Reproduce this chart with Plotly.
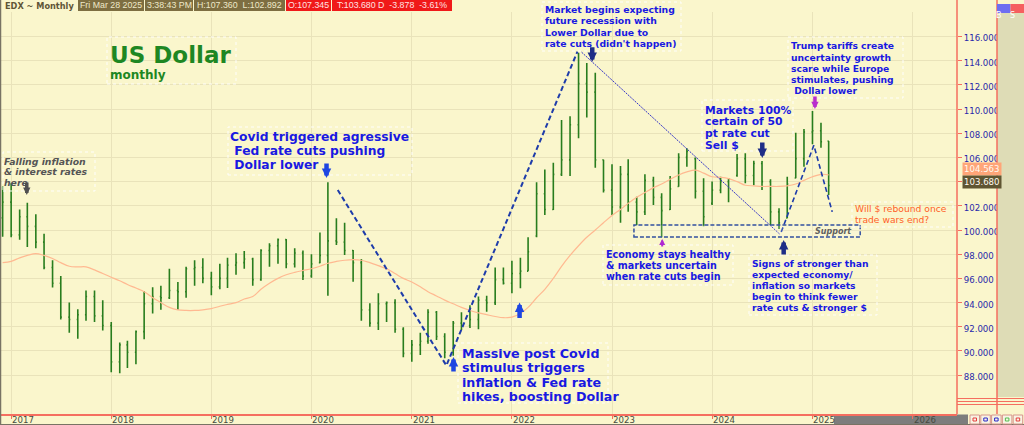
import pandas as pd
import plotly.graph_objects as go

# monthly bars, Dec 2016 .. Mar 2025
months = pd.date_range("2016-12-01", periods=100, freq="MS")

opens = [101.0,
         102.3, 99.6, 101.1, 100.3, 99.0, 96.9, 95.6, 92.8, 92.6, 93.0, 94.5, 92.9,
         92.1, 89.1, 90.5, 89.9, 91.6, 93.9, 94.5, 94.4, 95.0, 94.9, 96.8, 96.9,
         96.0, 95.3, 96.0, 97.1, 97.3, 97.6, 95.9, 98.3, 98.7, 99.2, 97.2, 98.1,
         96.2, 97.3, 97.9, 99.1, 99.0, 98.3, 97.3, 93.4, 92.3, 93.9, 94.0, 91.8,
         89.8, 90.5, 90.8, 93.2, 91.2, 89.9, 92.3, 92.1, 92.6, 94.2, 94.0, 95.9,
         95.6, 96.4, 96.6, 99.5, 103.0, 101.7, 104.6, 105.8, 108.7, 112.1, 111.4, 105.8,
         103.3, 101.9, 104.6, 102.3, 101.5, 104.1, 102.7, 101.7, 103.6, 106.0, 105.9, 103.2,
         102.2, 103.3, 104.0, 104.5, 105.9, 104.5, 105.5, 104.0, 101.5, 101.0, 104.3, 105.9,
         108.1, 108.2, 107.345]
highs = [103.6,
         103.86, 101.7, 102.26, 101.3, 99.7, 97.5, 96.2, 94.0, 93.45, 95.0, 95.0, 94.2,
         92.4, 90.7, 90.85, 91.7, 94.96, 95.26, 95.4, 96.8, 95.7, 96.97, 97.5, 97.66,
         96.55, 97.2, 97.7, 98.07, 98.26, 97.7, 98.4, 98.9, 99.3, 99.26, 98.5, 98.3,
         98.0, 99.8, 103.94, 100.97, 100.6, 98.35, 97.6, 93.94, 94.77, 94.08, 94.27, 91.96,
         90.9, 91.5, 93.45, 93.3, 91.46, 92.48, 93.2, 93.77, 94.5, 94.57, 96.9, 96.9,
         97.46, 97.7, 99.4, 103.94, 105.0, 105.56, 109.1, 109.4, 114.65, 113.8, 113.0, 105.8,
         105.43, 105.3, 105.84, 102.75, 104.6, 104.4, 103.03, 104.46, 106.34, 106.75, 106.0, 104.27,
         104.0, 104.4, 104.3, 106.28, 106.34, 105.73, 105.7, 104.2, 101.8, 104.4, 108.04, 108.35,
         109.83, 108.87, 107.36]
lows = [99.45,
        99.4, 99.2, 98.6, 98.5, 96.75, 95.25, 92.6, 91.5, 91.0, 92.5, 92.4, 91.7,
        88.25, 88.15, 88.6, 88.9, 90.97, 93.1, 93.4, 94.3, 93.4, 94.4, 95.4, 95.6,
        94.6, 95.1, 95.2, 96.3, 96.8, 95.4, 95.8, 96.97, 97.2, 96.83, 96.9, 95.87,
        96.06, 97.25, 94.57, 98.76, 97.93, 95.73, 92.5, 92.0, 91.74, 92.4, 91.5, 89.48,
        89.1, 89.67, 90.6, 90.9, 89.4, 89.6, 91.74, 91.9, 91.8, 93.25, 93.8, 95.5,
        94.77, 95.18, 96.6, 99.4, 101.24, 101.65, 104.46, 104.46, 107.58, 109.3, 105.15, 103.1,
        101.24, 100.6, 101.5, 100.4, 101.24, 102.07, 99.4, 101.65, 103.58, 105.23, 102.6, 100.3,
        102.07, 103.03, 102.3, 104.4, 103.86, 103.7, 103.3, 100.4, 100.08, 100.97, 104.27, 105.23,
        107.08, 106.8, 102.892]
closes = [102.3,
          99.6, 101.1, 100.3, 99.0, 96.9, 95.6, 92.8, 92.6, 93.0, 94.5, 92.9, 92.1,
          89.1, 90.5, 89.9, 91.6, 93.9, 94.5, 94.4, 95.0, 94.9, 96.8, 96.9, 96.0,
          95.3, 96.0, 97.1, 97.3, 97.6, 95.9, 98.3, 98.7, 99.2, 97.2, 98.1, 96.2,
          97.2, 97.9, 99.1, 99.0, 98.3, 97.3, 93.4, 92.3, 93.9, 94.0, 91.8, 89.8,
          90.5, 90.8, 93.2, 91.2, 89.9, 92.3, 92.1, 92.6, 94.2, 94.0, 95.9, 95.6,
          96.4, 96.6, 98.2, 103.0, 101.7, 104.6, 105.8, 108.7, 112.1, 111.4, 105.8, 103.3,
          101.9, 104.6, 102.3, 101.5, 104.1, 102.7, 101.6, 103.4, 106.0, 106.5, 103.2, 101.1,
          103.3, 104.0, 104.2, 105.9, 104.5, 105.5, 104.0, 101.5, 100.6, 103.8, 105.9, 108.1,
          108.2, 107.3, 103.68]
# moving average line
moving_avg = [97.3,
              97.4, 97.7, 97.9, 98.05, 97.9, 97.65, 97.3, 97.0, 96.95, 96.95, 96.7, 96.4,
              96.1, 95.8, 95.5, 95.2, 94.9, 94.4, 94.0, 93.6, 93.4, 93.35, 93.35, 93.4,
              93.5, 93.7, 93.85, 94.0, 94.3, 94.5, 95.1, 95.6, 96.0, 96.3, 96.5, 96.65,
              96.8, 97.0, 97.25, 97.4, 97.5, 97.55, 97.5, 97.3, 97.05, 96.8, 96.4, 96.0,
              95.7, 95.3, 94.9, 94.55, 94.2, 93.9, 93.6, 93.35, 93.15, 93.0, 92.85, 92.75,
              92.8, 93.1, 93.6, 94.4, 95.1, 96.0, 97.0, 97.9, 98.7, 99.4, 100.0, 100.6,
              101.2, 101.7, 102.2, 102.7, 103.1, 103.5, 103.8, 104.2, 104.55, 104.8, 104.95, 104.7,
              104.4, 104.35, 104.25, 104.0, 103.7, 103.65, 103.6, 103.6, 103.6, 103.65, 103.8, 104.1,
              104.4, 104.6, 104.56]

years = list(range(2017, 2027))
price_ticks = list(range(88, 118, 2))

# hand drawn trend lines
v_line_dates = ["2020-04-06", "2021-05-07", "2022-08-28"]
v_line_values = [103.3, 88.8, 114.75]
fall_line_dates = ["2022-09-12", "2024-09-03"]
fall_line_values = [114.7, 99.67]
w_line_dates = ["2024-09-09", "2025-01-06", "2025-03-14"]
w_line_values = [99.83, 107.0, 101.5]
support_low, support_high = 99.42, 100.41

BG = "rgb(250,246,204)"
GRID = "rgb(233,227,186)"
RED = "rgb(245,110,95)"
BLUE_TXT = "rgb(25,25,225)"
FONT = "DejaVu Sans"


def px(x):
    return (x - 1) / 956


def py(y):
    return (414 - y) / 402


fig = go.Figure()
fig.add_trace(go.Scatter(x=months, y=moving_avg, mode="lines", line=dict(color="rgb(255,185,145)", width=1.2,
                                                                        shape="spline"),
                         hoverinfo="skip"))
fig.add_trace(go.Ohlc(x=months, open=opens, high=highs, low=lows, close=closes, tickwidth=0.14,
                      increasing=dict(line=dict(color="rgb(40,125,30)", width=1.6)),
                      decreasing=dict(line=dict(color="rgb(40,125,30)", width=1.6))))
fig.add_trace(go.Scatter(x=v_line_dates, y=v_line_values, mode="lines",
                         line=dict(color="rgb(30,60,170)", width=2, dash="5px,3px")))
fig.add_trace(go.Scatter(x=fall_line_dates, y=fall_line_values, mode="lines",
                         line=dict(color="rgb(50,50,200)", width=1, dash="2px,1px")))
fig.add_trace(go.Scatter(x=w_line_dates, y=w_line_values, mode="lines",
                         line=dict(color="rgb(30,60,170)", width=1.6, dash="5px,3px")))

shapes = [
    dict(type="rect", xref="x", yref="y", x0="2023-03-22", x1="2025-06-24", y0=support_low, y1=support_high,
         line=dict(color="rgb(50,80,160)", width=1.5, dash="4px,2px"), fillcolor="rgba(255,255,255,0.15)"),
    # right side panel and frame
    dict(type="rect", xref="paper", yref="paper", x0=px(997), x1=px(1024), y0=py(397), y1=py(13),
         fillcolor="rgb(222,220,182)", line=dict(width=0)),
    dict(type="line", xref="paper", yref="paper", x0=px(957), x1=px(957), y0=py(414), y1=py(0),
         line=dict(color=RED, width=1.5)),
    dict(type="line", xref="paper", yref="paper", x0=px(997), x1=px(997), y0=py(414), y1=py(0),
         line=dict(color=RED, width=1.5)),
    dict(type="line", xref="paper", yref="paper", x0=px(0.5), x1=px(0.5), y0=py(425), y1=py(0),
         line=dict(color="rgb(120,115,100)", width=1.5)),
    dict(type="line", xref="paper", yref="paper", x0=px(0), x1=px(1024), y0=py(424.5), y1=py(424.5),
         line=dict(color="rgb(120,115,100)", width=1)),
    # bottom scroll bar
    dict(type="rect", xref="paper", yref="paper", x0=px(834), x1=px(968), y0=py(424), y1=py(414.5),
         fillcolor="rgb(125,125,125)", line=dict(width=0), layer="below"),
    # B / S buttons
    dict(type="rect", xref="paper", yref="paper", x0=px(997), x1=px(1010.5), y0=py(13), y1=py(4),
         fillcolor="rgb(110,110,240)", line=dict(width=0)),
    dict(type="rect", xref="paper", yref="paper", x0=px(1010.5), x1=px(1024), y0=py(13), y1=py(4),
         fillcolor="rgb(245,95,95)", line=dict(width=0)),
]
for yy in [398.5, 401.5, 404.5]:
    shapes.append(dict(type="line", xref="paper", yref="paper", x0=px(957), x1=px(1024), y0=py(yy), y1=py(yy),
                       line=dict(color=RED, width=1)))
button_colors = ["rgb(230,60,60)", "rgb(40,40,200)", "rgb(40,40,200)", "rgb(80,190,80)", "rgb(230,60,60)"]
for i, c in enumerate(button_colors):
    x0 = 970 + i * 10.8
    shapes.append(dict(type="rect", xref="paper", yref="paper", x0=px(x0), x1=px(x0 + 9.5), y0=py(424), y1=py(415),
                       fillcolor="rgb(248,244,228)", line=dict(color="rgb(215,150,140)", width=1)))
    shapes.append(dict(type="rect", xref="paper", yref="paper", x0=px(x0 + 3), x1=px(x0 + 6.5), y0=py(421),
                       y1=py(418), fillcolor="rgba(0,0,0,0)", line=dict(color=c, width=1)))

ann = []


def box(x0, y0, x1, y1):
    shapes.append(dict(type="rect", xref="paper", yref="paper", x0=px(x0), x1=px(x1), y0=py(y1), y1=py(y0),
                       line=dict(color="rgba(255,255,255,0.95)", width=1, dash="dot")))


def note(lines, x, y, step, size, color=BLUE_TXT, italic=False, weight="bold"):
    # one annotation per line so the line spacing follows the chart
    for i, line in enumerate(lines):
        ann.append(dict(text=line, xref="paper", yref="paper", x=px(x), y=py(y + i * step),
                        xanchor="left", yanchor="middle", showarrow=False, borderpad=0,
                        font=dict(family=FONT, size=size, color=color, weight=weight,
                                  style="italic" if italic else "normal")))


box(107, 37, 236, 84)
note(["US Dollar"], 109, 55, 0, 23, color="rgb(30,135,35)")
note(["monthly"], 109, 75, 0, 12, color="rgb(30,135,35)")

box(3, 152, 95, 191)
note(["Falling inflation", "& interest rates", "here"], 3, 161, 10.9, 9.3, color="rgb(85,85,85)", italic=True)

box(228, 127, 412, 175)
note(["Covid triggered agressive", " Fed rate cuts pushing", " Dollar lower"], 229, 137, 13.8, 12.3)

box(542, 2, 681, 51)
note(["Market begins expecting", "future recession with", "Lower Dollar due to", "rate cuts (didn't happen)"],
     544, 9.5, 11.3, 9.3)

box(458, 343, 608, 403)
note(["Massive post Covid", "stimulus triggers", "inflation & Fed rate", "hikes, boosting Dollar"],
     461, 353.5, 14.4, 12.7)

box(603, 245, 733, 285)
note(["Economy stays healthy", "& markets uncertain", "when rate cuts begin"], 605, 254, 11.3, 9.6)

box(702, 100, 793, 151)
note(["Markets 100%", "certain of 50", "pt rate cut", "Sell $"], 704, 110, 11.7, 10.8)

box(788, 37, 903, 98)
note(["Trump tariffs create", "uncertainty growth", "scare while Europe", "stimulates, pushing", " Dollar lower"],
     790, 46, 11.1, 9.2)

box(749, 255, 877, 315)
note(["Signs of stronger than", "expected economy/", "inflation so markets", "begin to think fewer",
      "rate cuts & stronger $"], 751, 263.5, 11.1, 9.2)

box(852, 202, 953, 227)
note(["Will $ rebound once", "trade wars end?"], 854, 208.5, 11, 9.2, color="rgb(255,95,40)", weight="normal")

note(["Support"], 814, 231, 0, 8, color="rgb(95,95,95)", italic=True)


def arrow(x, y, ay, color, width=4.5, size=0.42):
    ann.append(dict(x=x, y=y, xref="x", yref="y", ax=0, ay=ay, text="", showarrow=True, arrowhead=2,
                    arrowsize=size, arrowwidth=width, arrowcolor=color))


arrow("2017-02-27", 102.9, -14, "rgb(80,80,80)", 3.5)
arrow("2020-02-25", 104.3, -16, "rgb(30,70,225)")
arrow("2022-10-21", 113.9, -16, "rgb(30,45,135)")
arrow("2021-06-02", 89.5, 16, "rgb(30,70,225)")
arrow("2022-01-29", 94.0, 17, "rgb(30,70,225)")
arrow("2023-07-03", 99.26, 9, "rgb(175,40,210)", 2, 0.6)
arrow("2024-07-02", 105.95, -17, "rgb(30,45,135)")
arrow("2025-01-10", 110.0, -14, "rgb(185,45,205)", 3.5)
arrow("2024-09-18", 99.17, 16, "rgb(30,45,135)")

# year labels sit just right of each year grid line
for y in years:
    ann.append(dict(text=str(y), xref="x", yref="paper", x=f"{y}-01-01", y=py(420), xanchor="left",
                    yanchor="middle", xshift=-1, showarrow=False,
                    font=dict(family=FONT, size=8.6, color="rgb(70,75,65)")))

# header strip
ann.append(dict(text="EDX ~ Monthly", xref="paper", yref="paper", x=px(3), y=py(6), xanchor="left",
                yanchor="middle", showarrow=False,
                font=dict(family=FONT, size=8.2, color="rgb(95,85,55)", weight="bold")))
header_boxes = [
    ("Fri Mar 28 2025", 78, 144, "rgb(125,110,65)", "rgb(238,232,200)"),
    ("3:38:43 PM", 145, 193, "rgb(125,110,65)", "rgb(238,232,200)"),
    ("H:107.360  L:102.892", 194, 285, "rgb(125,110,65)", "rgb(238,232,200)"),
    ("O:107.345", 286, 331, "rgb(240,25,25)", "rgb(255,225,225)"),
    ("T:103.680 D  -3.878  -3.61%", 332, 452, "rgb(240,25,25)", "rgb(255,225,225)"),
]
for text, x0, x1, bg, fg in header_boxes:
    shapes.append(dict(type="rect", xref="paper", yref="paper", x0=px(x0), x1=px(x1), y0=py(11), y1=py(0),
                       fillcolor=bg, line=dict(width=0)))
    ann.append(dict(text=text, xref="paper", yref="paper", x=px((x0 + x1) / 2), y=py(5.5), xanchor="center",
                    yanchor="middle", showarrow=False,
                    font=dict(family="Liberation Sans", size=8.8, color=fg)))

ann.append(dict(text="B", xref="paper", yref="paper", x=px(1003.7), y=py(8.5), showarrow=False,
                font=dict(family=FONT, size=8, color="white")))
ann.append(dict(text="S", xref="paper", yref="paper", x=px(1017.2), y=py(8.5), showarrow=False,
                font=dict(family=FONT, size=8, color="white")))

# last value tags on the price axis
for text, yc, bg in [("104.563", 168.5, "rgb(255,165,120)"), ("103.680", 181.5, "rgb(95,85,50)")]:
    ann.append(dict(text=text, xref="paper", yref="paper", x=px(962), y=py(yc), xanchor="left",
                    yanchor="middle", showarrow=False, bgcolor=bg, borderpad=1,
                    font=dict(family=FONT, size=8.6, color="rgb(255,250,240)")))

fig.update_layout(
    width=1024, height=425,
    margin=dict(l=1, r=67, t=12, b=11),
    paper_bgcolor=BG, plot_bgcolor=BG,
    showlegend=False,
    shapes=shapes, annotations=ann,
    xaxis=dict(type="date", range=["2016-11-25", "2026-06-12"], rangeslider=dict(visible=False),
               tickvals=[f"{y}-01-01" for y in years], showticklabels=False,
               showgrid=True, gridcolor=GRID, gridwidth=1, zeroline=False,
               showline=True, linecolor=RED, linewidth=1.5,
               ticks="outside", ticklen=3, tickcolor=RED),
    yaxis=dict(side="right", range=[84.79, 118.02], tickvals=price_ticks, tickformat=".3f",
               showgrid=True, gridcolor=GRID, gridwidth=1, zeroline=False,
               showline=False, ticks="outside", ticklen=4, tickcolor=RED, ticklabelshift=2,
               tickfont=dict(family=FONT, size=8.6, color="rgb(40,40,170)")),
)

fig.write_html("out.html", config={"displayModeBar": False},
               post_script="document.body.style.margin = '0px';")
